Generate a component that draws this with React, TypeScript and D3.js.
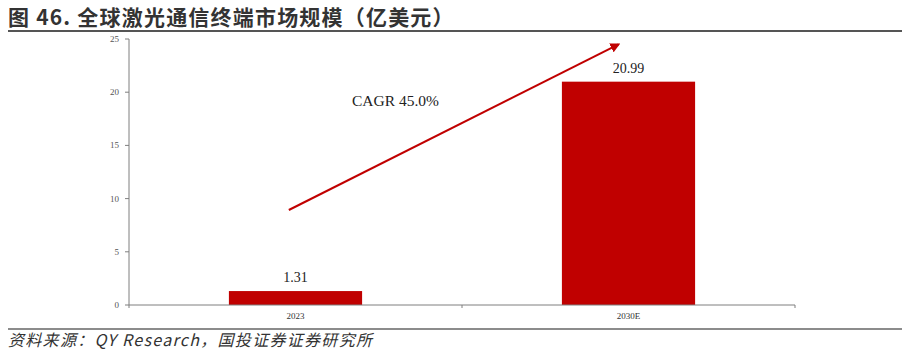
import React from "react";
import * as d3 from "d3";

const categories = ["2023", "2030E"];
const values = [1.31, 20.99];
const valueLabels = ["1.31", "20.99"];
const yTicks = [0, 5, 10, 15, 20, 25];
const title = "图 46. 全球激光通信终端市场规模（亿美元）";
const source = "资料来源：QY Research，国投证券证券研究所";
const cagrText = "CAGR 45.0%";
// arrow in data units: [category index position, value]
const arrowStart = [-0.02, 8.93];
const arrowEnd = [0.97, 24.5];

export default function App() {
  const W = 906, H = 357;
  const left = 129, right = 795, top = 39, bottom = 305;
  const x = d3.scaleBand<string>().domain(categories).range([left, right]).paddingInner(0.6).paddingOuter(0.3);
  const y = d3.scaleLinear().domain([0, 25]).range([bottom, top]);
  const xc = d3.scaleLinear().domain([0, 1]).range([x(categories[0])! + x.bandwidth() / 2, x(categories[1])! + x.bandwidth() / 2]);
  const boundaries = [left, ...categories.slice(1).map((c) => x(c)! - (x.step() - x.bandwidth()) / 2), right];
  const red = "#C00000";
  const axis = "#7f7f7f";
  return (
    <svg width={W} height={H} style={{ position: "absolute", left: 0, top: 0, background: "#fff" }}>
      <defs>
        <marker id="ah" viewBox="0 0 10 10" refX="8" refY="5" markerWidth="5" markerHeight="5" orient="auto" markerUnits="strokeWidth">
          <path d="M0,0 L10,5 L0,10 z" fill={red} />
        </marker>
      </defs>
      <text x={8} y={25} fontFamily="'Noto Sans CJK SC', sans-serif" fontWeight="bold" fontSize={21} letterSpacing={1.2} fill="#333">{title}</text>
      <line x1={8} x2={902} y1={31} y2={31} stroke="#555" strokeWidth={2} />
      {/* y axis */}
      <line x1={left} x2={left} y1={top} y2={bottom} stroke={axis} strokeWidth={1} />
      {yTicks.map((t) => (
        <g key={t}>
          <line x1={left - 4} x2={left} y1={y(t)} y2={y(t)} stroke={axis} />
          <text x={left - 10} y={y(t) + 3} textAnchor="end" fontFamily="'Liberation Serif', serif" fontSize={9} fill="#555">{t}</text>
        </g>
      ))}
      {/* bars */}
      {categories.map((c, i) => (
        <g key={c}>
          <rect x={x(c)} y={y(values[i])} width={x.bandwidth()} height={bottom - y(values[i])} fill={red} />
          <text x={x(c)! + x.bandwidth() / 2} y={y(values[i]) - 9} textAnchor="middle" fontFamily="'Liberation Serif', serif" fontSize={14} fill="#222">{valueLabels[i]}</text>
          <text x={x(c)! + x.bandwidth() / 2} y={bottom + 14} textAnchor="middle" fontFamily="'Liberation Serif', serif" fontSize={9} fill="#333">{c}</text>
        </g>
      ))}
      {/* x axis */}
      <line x1={left} x2={right} y1={bottom} y2={bottom} stroke={axis} strokeWidth={1} />
      {boundaries.map((b, i) => (
        <line key={i} x1={b} x2={b} y1={bottom} y2={bottom + 3} stroke={axis} />
      ))}
      {/* arrow */}
      <line x1={xc(arrowStart[0])} y1={y(arrowStart[1])} x2={xc(arrowEnd[0])} y2={y(arrowEnd[1])} stroke={red} strokeWidth={2} markerEnd="url(#ah)" />
      <text x={352} y={106} fontFamily="'Liberation Serif', serif" fontSize={15.5} fill="#222">{cagrText}</text>
      <line x1={8} x2={902} y1={329} y2={329} stroke="#666" strokeWidth={1.5} />
      <text x={8} y={346} fontFamily="'Noto Sans CJK SC', sans-serif" fontStyle="italic" fontSize={16} letterSpacing={1.3} fill="#333">{source}</text>
    </svg>
  );
}
